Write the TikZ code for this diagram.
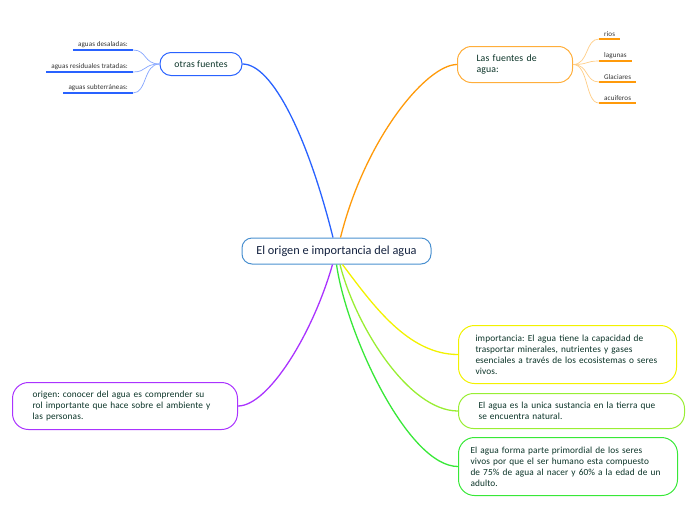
\documentclass[tikz,border=0pt]{standalone}
\usepackage{fontspec}
\setmainfont{Carlito}
\newfontfamily\cajafont[LetterSpace=1.2]{Carlito}
\usetikzlibrary{positioning,calc}

\definecolor{azul}{HTML}{2962FF}
\definecolor{azulclaro}{HTML}{86A6FF}
\definecolor{naranja}{HTML}{FF9A0A}
\definecolor{naranjaclaro}{HTML}{FFCD85}
\definecolor{amarillo}{HTML}{F2F200}
\definecolor{verdelima}{HTML}{99EE33}
\definecolor{verde}{HTML}{38E838}
\definecolor{morado}{HTML}{AA33FF}
\definecolor{celeste}{HTML}{4A90D0}
\definecolor{textoverde}{HTML}{0A3327}
\definecolor{textoazul}{HTML}{14223F}

\begin{document}
\frenchspacing
\begin{tikzpicture}[
  x=1pt, y=-1pt,
  caja/.style={draw, line width=1pt, text=textoverde, align=left,
    font=\cajafont\fontsize{9.3}{11}\selectfont},
  hoja/.style={text=black!80, inner xsep=5pt, inner ysep=2.5pt, font=\cajafont\fontsize{7.1}{8}\selectfont},
  rama/.style={line width=1.3pt},
  subrama/.style={line width=0.7pt},
  raya/.style={line width=1.6pt}
]
\useasboundingbox (0,0) rectangle (696,520);

% tema central
\node[draw=celeste, line width=1pt, rounded corners=10pt, minimum width=189pt, minimum height=26pt,
  text=textoazul, font=\fontsize{12.3}{14}\selectfont] (centro) at (336.5,251) {El origen e importancia del agua};

% otras fuentes
\node[caja, draw=azul, rounded corners=11pt, minimum width=82pt, minimum height=23pt, align=center,
  font=\cajafont\fontsize{9.7}{11}\selectfont] (otras) at (201,64) {otras fuentes};
\node[hoja, anchor=south east] (desal) at (133,50) {aguas desaladas:};
\node[hoja, anchor=south east] (resid) at (133,72) {aguas residuales tratadas:};
\node[hoja, anchor=south east] (subte) at (133,93) {aguas subterráneas:};
\foreach \h in {desal,resid,subte}
  \draw[raya, azul] (\h.south west) -- (\h.south east);
\draw[subrama, azulclaro] (otras.west) .. controls +(-16,0) and +(14,0) .. (desal.south east);
\draw[subrama, azulclaro] (otras.west) .. controls +(-16,0) and +(14,0) .. (resid.south east);
\draw[subrama, azulclaro] (otras.west) .. controls +(-16,0) and +(14,0) .. (subte.south east);

% las fuentes de agua
\node[caja, draw=naranja!80, rounded corners=14pt, anchor=north west, text width=77pt, inner xsep=19pt,
  minimum height=36pt, font=\cajafont\fontsize{9.8}{11}\selectfont] (fuentes) at (457,46) {Las fuentes de\\agua:};
\node[hoja, anchor=south west] (rios) at (599,39) {rios};
\node[hoja, anchor=south west] (lagunas) at (599,61) {lagunas};
\node[hoja, anchor=south west] (glaciares) at (599,82) {Glaciares};
\node[hoja, anchor=south west] (acuiferos) at (599,103) {acuiferos};
\foreach \h in {rios,lagunas,glaciares,acuiferos}
  \draw[raya, naranja] (\h.south west) -- (\h.south east);
\draw[subrama, naranjaclaro] (fuentes.east) .. controls +(16,0) and +(-14,0) .. (rios.south west);
\draw[subrama, naranjaclaro] (fuentes.east) .. controls +(16,0) and +(-14,0) .. (lagunas.south west);
\draw[subrama, naranjaclaro] (fuentes.east) .. controls +(16,0) and +(-14,0) .. (glaciares.south west);
\draw[subrama, naranjaclaro] (fuentes.east) .. controls +(16,0) and +(-14,0) .. (acuiferos.south west);

% ideas principales
\node[caja, draw=amarillo, rounded corners=16pt, anchor=north west, text width=184pt, inner xsep=17pt,
  minimum height=58pt] (importancia) at (458,325)
  {importancia: El agua tiene la capacidad de\\trasportar minerales, nutrientes y gases\\esenciales a través de los ecosistemas o seres\\vivos.};
\node[caja, draw=verdelima, rounded corners=15pt, anchor=north west, text width=186pt, inner xsep=20pt,
  minimum height=35pt] (unica) at (458,393)
  {El agua es la unica sustancia en la tierra que\\se encuentra natural.};
\node[caja, draw=verde, rounded corners=16pt, anchor=north west, text width=195pt, inner xsep=12pt,
  minimum height=58pt] (forma) at (458,437)
  {El agua forma parte primordial de los seres\\vivos por que el ser humano esta compuesto\\de 75\% de agua al nacer y 60\% a la edad de un\\adulto.};
\node[caja, draw=morado, rounded corners=16pt, anchor=north west, text width=185pt, inner xsep=20pt,
  minimum height=47pt] (origen) at (12,382)
  {origen: conocer del agua es comprender su\\rol importante que hace sobre el ambiente y\\las personas.};

% ramas
\draw[rama, azul] ([xshift=-3.5pt]centro.north) .. controls +(-25,-100) and +(30,0) .. (otras.east);
\draw[rama, naranja] ([xshift=4pt]centro.north) .. controls +(25,-100) and +(-30,0) .. (fuentes.west);
\draw[rama, morado] ([xshift=-4pt]centro.south) .. controls +(-20,70) and +(30,0) .. (origen.east);
\draw[rama, amarillo] ([xshift=6pt]centro.south) .. controls +(30,40) and +(-50,0) .. (importancia.west);
\draw[rama, verdelima] ([xshift=3.5pt]centro.south) .. controls +(15,60) and +(-50,0) .. (unica.west);
\draw[rama, verde] (centro.south) .. controls +(10,70) and +(-50,0) .. (forma.west);
\end{tikzpicture}
\end{document}
